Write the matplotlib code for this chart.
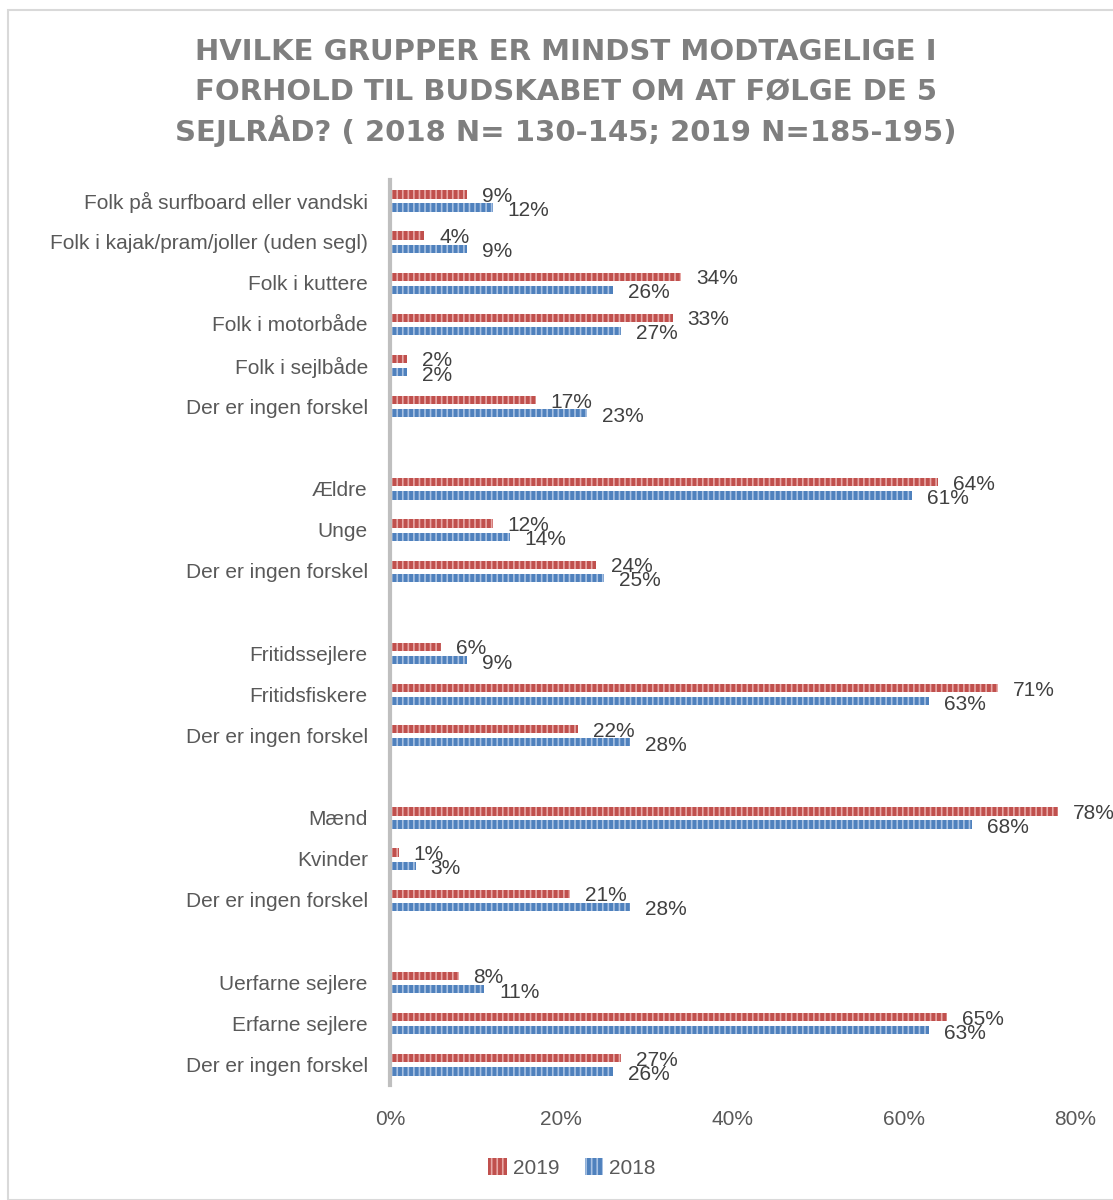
import matplotlib
matplotlib.use("Agg")
import matplotlib.pyplot as plt
from matplotlib.patches import Rectangle

plt.rcParams["font.family"] = ["Liberation Sans", "DejaVu Sans"]
plt.rcParams["hatch.linewidth"] = 1.2

# Data, grouped as in the original
group_labels = [
    ["Folk på surfboard eller vandski", "Folk i kajak/pram/joller (uden segl)",
     "Folk i kuttere", "Folk i motorbåde", "Folk i sejlbåde", "Der er ingen forskel"],
    ["Ældre", "Unge", "Der er ingen forskel"],
    ["Fritidssejlere", "Fritidsfiskere", "Der er ingen forskel"],
    ["Mænd", "Kvinder", "Der er ingen forskel"],
    ["Uerfarne sejlere", "Erfarne sejlere", "Der er ingen forskel"],
]
vals_2019 = [
    [9, 4, 34, 33, 2, 17],
    [64, 12, 24],
    [6, 71, 22],
    [78, 1, 21],
    [8, 65, 27],
]
vals_2018 = [
    [12, 9, 26, 27, 2, 23],
    [61, 14, 25],
    [9, 63, 28],
    [68, 3, 28],
    [11, 63, 26],
]

title_lines = ["HVILKE GRUPPER ER MINDST MODTAGELIGE I",
               "FORHOLD TIL BUDSKABET OM AT FØLGE DE 5",
               "SEJLRÅD? ( 2018 N= 130-145; 2019 N=185-195)"]

red = "#C0504D"
blue = "#4F81BD"
txt = "#595959"

# flatten with an empty slot between groups
labels, y19, y18, pos = [], [], [], []
row = 0
for g, (lab, a, b) in enumerate(zip(group_labels, vals_2019, vals_2018)):
    if g > 0:
        row += 1
    for l, v1, v2 in zip(lab, a, b):
        labels.append(l)
        y19.append(v1 / 100)
        y18.append(v2 / 100)
        pos.append(row)
        row += 1
n_rows = row

fig = plt.figure(figsize=(11.13, 12), dpi=100)
fig.patches.append(Rectangle((8 / 1113, 0), 1.2, 1 - 10 / 1200, transform=fig.transFigure,
                             fill=False, edgecolor="#D9D9D9", linewidth=1.5))

ax = fig.add_axes([390 / 1113, 1 - 1085 / 1200, (1075 - 390) / 1113, (1085 - 180) / 1200])

h = 0.2
p19 = [p - 0.15 for p in pos]
p18 = [p + 0.17 for p in pos]
ax.barh(p19, y19, height=h, color=red, edgecolor="#E8A9A7", linewidth=0, hatch="|||", label="2019")
ax.barh(p18, y18, height=h, color=blue, edgecolor="#A9C2E3", linewidth=0, hatch="|||", label="2018")

for p, v in zip(p19, y19):
    ax.annotate(f"{v * 100:.0f}%", (v, p), xytext=(15, -2), textcoords="offset pixels",
                ha="left", va="center", fontsize=15, color="#404040")
for p, v in zip(p18, y18):
    ax.annotate(f"{v * 100:.0f}%", (v, p), xytext=(15, -3), textcoords="offset pixels",
                ha="left", va="center", fontsize=15, color="#404040")

ax.set_xlim(0, 0.8)
ax.set_ylim(n_rows - 0.5, -0.5)
ax.set_xticks([0, 0.2, 0.4, 0.6, 0.8])
ax.set_xticklabels(["0%", "20%", "40%", "60%", "80%"])
ax.set_yticks(pos)
ax.set_yticklabels(labels)
ax.tick_params(axis="both", length=0, labelsize=15, labelcolor=txt)
ax.tick_params(axis="x", pad=18)
ax.tick_params(axis="y", pad=16)
for s in ["top", "right", "bottom"]:
    ax.spines[s].set_visible(False)
ax.spines["left"].set_color("#BFBFBF")
ax.spines["left"].set_linewidth(3)

for line, ty in zip(title_lines, [52, 92, 131]):
    fig.text(566 / 1113, 1 - ty / 1200, line, ha="center", va="center", fontsize=21,
             fontweight="bold", color="#7F7F7F", family=["DejaVu Sans"])

ax.legend(loc="center", bbox_to_anchor=(572 / 1113, 1 - 1168 / 1200),
          bbox_transform=fig.transFigure, ncol=2, frameon=False, fontsize=15,
          handlelength=0.9, handleheight=0.9, handletextpad=0.3, columnspacing=1.2,
          labelcolor=txt)

fig.savefig("out.png", dpi=100)
